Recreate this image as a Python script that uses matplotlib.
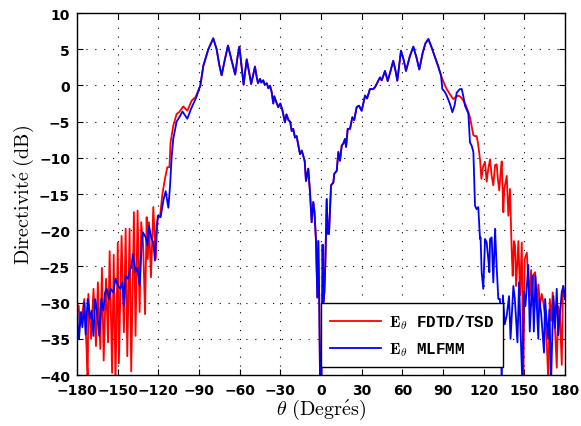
import numpy as np
import matplotlib
matplotlib.use("Agg")
import matplotlib.pyplot as plt

plt.rcParams["mathtext.fontset"] = "cm"

# ---- data (theta in degrees, directivity in dB) ----
# left side lobes, FDTD/TSD
theta_fdtd_left = [-180, -178.8, -177.8, -176.1, -174.6, -173.0, -172.1, -171.6, -169.6, -167.8,
                   -166.0, -164.6, -162.8, -161.6, -160.3, -158.6, -157.1, -155.9, -154.1, -152.9,
                   -151.6, -149.9, -149.1, -147.1, -145.4, -144.1, -142.9, -141.2, -140.0, -138.0,
                   -136.8, -135.3, -133.8, -132.6, -131.2, -129.8, -128.6, -127.8, -126.9, -125.4,
                   -123.7, -121.9, -120.5, -118.8, -117.0, -115.1, -113.4, -111.8, -111.0, -109.0,
                   -106.5, -104.7, -101.6, -98.6, -95.4, -92.5, -90.0]
d_fdtd_left = [-31.0, -30.4, -33.2, -31.5, -29.5, -36.0, -41.0, -28.8, -35.0, -28.1,
               -36.0, -27.2, -36.4, -25.2, -38.0, -26.7, -35.5, -22.9, -39.7, -23.4,
               -41.0, -21.7, -38.4, -20.8, -34.1, -19.8, -37.4, -19.8, -39.5, -17.5,
               -34.6, -17.3, -31.3, -18.9, -22.0, -31.6, -18.2, -24.0, -18.9, -26.5,
               -16.8, -24.0, -18.0, -18.2, -15.0, -12.9, -11.3, -11.3, -7.9, -5.6,
               -3.95, -3.7, -2.9, -3.5, -2.1, -1.6, -0.5]

# left side lobes, MLFMM
theta_mlfmm_left = [-180, -179.5, -178.5, -177.1, -176.0, -174.6, -173.6, -172.1, -170.4, -169.2,
                    -167.9, -166.6, -165.1, -163.6, -162.1, -160.5, -159.3, -158.0, -156.5, -155.0,
                    -153.2, -151.6, -149.8, -148.1, -146.6, -145.4, -144.2, -142.5, -141.2, -140.0,
                    -138.8, -136.8, -135.5, -133.8, -132.3, -131.3, -129.3, -128.1, -126.9, -125.0,
                    -123.7, -122.5, -121.3, -120.0, -118.3, -116.3, -114.6, -112.6, -111.4, -110.2,
                    -109.0, -106.5, -104.5, -102.2, -100.0, -98.6, -96.0, -92.0, -90.0]
d_mlfmm_left = [-29.1, -32.7, -35.0, -31.3, -33.4, -30.0, -34.4, -29.5, -32.2, -31.1,
                -34.6, -29.5, -31.4, -34.6, -29.5, -31.1, -28.6, -28.1, -29.5, -28.1,
                -28.6, -26.7, -27.6, -28.1, -27.2, -30.4, -26.3, -26.7, -25.6, -25.2,
                -23.3, -25.8, -25.2, -27.6, -22.1, -20.3, -21.0, -22.1, -19.4, -21.2,
                -21.7, -24.2, -19.4, -18.0, -18.2, -15.9, -14.6, -16.9, -14.0, -10.0,
                -7.4, -5.0, -4.4, -3.6, -4.2, -4.6, -3.3, -1.65, -0.5]

# main lobes, both methods overlap here
theta_main = [-89.0, -86.8, -83.1, -79.5, -77.0, -75.0, -73.3, -71.0, -68.6, -66.0,
              -63.3, -61.5, -60.2, -58.5, -57.1, -54.8, -53.0, -51.5, -48.7, -47.5,
              -46.5, -45.0, -44.0, -42.6, -41.5, -40.0, -38.8, -37.6, -36.5, -35.2,
              -34.5, -33.0, -31.5, -30.0, -28.5, -26.6, -25.5, -24.0, -22.8, -21.6,
              -20.5, -19.2, -18.0, -16.7, -15.5, -14.2, -13.1, -12.0, -11.1, -9.4,
              -8.1, -6.9, -5.7, -4.8, -3.7, -2.7, -2.0, -1.3, -0.7, 0.3,
              0.9, 1.2, 1.7, 2.5, 3.2, 4.2, 5.0, 5.9, 7.4, 9.1,
              9.8, 11.6, 12.8, 14.0, 15.3, 16.5, 17.7, 18.5, 19.7, 21.4,
              23.1, 24.5, 26.3, 28.0, 30.0, 32.5, 34.0, 36.1, 38.6, 40.0,
              41.1, 43.5, 44.8, 47.2, 49.2, 51.0, 53.3, 55.0, 56.3, 59.0,
              61.0, 62.7, 65.5, 68.1, 70.5, 72.5, 75.0, 77.0, 79.2, 81.5,
              84.1, 86.5, 88.5]
d_main = [0.0, 2.7, 5.0, 6.5, 5.0, 2.8, 1.4, 3.5, 5.5, 3.5,
          1.5, 4.0, 5.35, 2.5, 0.1, 3.6, 1.8, 0.2, 2.6, 1.2,
          0.3, 0.9, 0.4, 0.7, 0.1, 0.3, -0.4, -0.05, -0.8, -2.5,
          -1.5, -2.3, -3.0, -2.5, -3.4, -5.1, -4.0, -4.8, -5.0, -6.3,
          -6.0, -7.2, -7.0, -8.3, -9.5, -9.0, -9.7, -10.5, -13.2, -11.5,
          -14.8, -18.9, -16.1, -17.5, -21.5, -29.3, -21.5, -29.5, -41.0, -41.0,
          -30.0, -22.0, -30.0, -28.5, -24.5, -15.7, -20.5, -20.5, -13.8, -13.4,
          -12.2, -11.8, -9.2, -10.4, -8.3, -8.0, -7.4, -8.5, -6.0, -6.0,
          -4.4, -4.8, -3.0, -2.8, -3.5, -1.4, -1.8, -0.5, -0.5, -0.2,
          0.2, 1.1, 0.7, 2.0, 0.6, 1.8, 3.4, 2.0, 0.65, 4.8,
          3.5, 2.0, 4.0, 5.35, 3.8, 2.2, 4.5, 5.8, 6.4, 5.3,
          3.9, 2.6, 1.4]

# right side lobes, FDTD/TSD
theta_fdtd_right = [90.5, 92.7, 95.0, 97.6, 99.5, 101.3, 103.0, 105.0, 107.0, 108.7,
                    110.0, 111.1, 112.4, 113.5, 114.8, 115.8, 116.6, 117.3, 118.3, 119.7,
                    121.0, 122.2, 123.4, 124.7, 125.9, 127.1, 128.4, 129.6, 130.5, 131.5,
                    132.5, 133.3, 134.5, 135.2, 137.0, 138.2, 139.4, 140.7, 141.4, 142.3,
                    143.1, 143.9, 145.6, 146.8, 148.1, 149.3, 150.2, 151.8, 152.8, 153.8,
                    155.0, 155.4, 156.6, 157.9, 159.1, 160.3, 161.6, 162.8, 164.0, 165.2,
                    166.5, 167.7, 168.8, 170.0, 170.9, 172.0, 173.9, 175.0, 176.3, 177.6,
                    178.5, 180.0]
d_fdtd_right = [0.4, -0.5, -1.2, -1.9, -1.6, -1.4, -1.6, -2.1, -2.8, -3.7,
                -4.5, -5.6, -6.9, -7.0, -7.0, -8.0, -9.2, -10.2, -12.9, -11.1,
                -10.6, -13.3, -11.5, -10.2, -12.5, -13.8, -11.0, -10.9, -13.0, -14.5,
                -12.0, -10.5, -17.5, -14.3, -12.5, -18.0, -14.3, -23.1, -26.3, -21.5,
                -22.1, -27.7, -21.5, -29.0, -21.7, -41.0, -24.0, -23.1, -26.5, -29.1,
                -25.5, -30.4, -26.2, -25.8, -30.9, -27.5, -30.4, -28.8, -30.0, -31.8,
                -35.5, -41.0, -29.5, -32.5, -28.6, -31.0, -39.0, -30.5, -32.0, -38.6,
                -27.7, -29.5]

# right side lobes, MLFMM
theta_mlfmm_right = [89.5, 91.0, 92.7, 95.2, 96.9, 98.5, 100.1, 102.5, 103.8, 105.0,
                     106.2, 108.7, 109.9, 111.1, 112.4, 113.1, 113.6, 114.8, 116.0, 117.3,
                     117.7, 118.5, 119.7, 121.0, 122.2, 123.4, 124.2, 124.7, 125.9, 127.1,
                     128.4, 129.5, 130.8, 132.0, 133.3, 134.2, 135.5, 137.0, 138.7, 139.8,
                     141.9, 143.0, 144.9, 146.1, 147.3, 148.5, 149.7, 150.8, 152.9, 154.0,
                     155.9, 157.0, 158.2, 160.3, 161.0, 162.4, 164.5, 165.3, 167.4, 168.5,
                     169.7, 171.4, 172.6, 173.9, 175.0, 176.3, 177.6, 178.8, 180.0]
d_mlfmm_right = [-0.5, -0.8, -1.4, -2.6, -3.7, -2.8, -1.0, -0.5, -0.5, -1.5,
                 -2.8, -3.9, -7.9, -8.3, -9.2, -13.8, -16.6, -17.1, -16.8, -21.2,
                 -21.0, -25.8, -28.1, -21.2, -21.7, -24.0, -25.8, -21.2, -21.0, -27.2,
                 -19.8, -24.8, -29.5, -29.5, -41.0, -29.0, -33.0, -31.8, -29.1, -35.0,
                 -27.7, -29.5, -35.5, -27.2, -34.5, -41.0, -28.5, -30.5, -24.8, -34.0,
                 -26.3, -34.0, -26.3, -35.0, -29.5, -31.5, -36.9, -29.5, -35.0, -31.0,
                 -41.0, -29.1, -33.5, -28.1, -34.5, -31.5, -28.5, -27.7, -29.5]

theta_fdtd = theta_fdtd_left + theta_main + theta_fdtd_right
d_fdtd = d_fdtd_left + d_main + d_fdtd_right
theta_mlfmm = theta_mlfmm_left + theta_main + theta_mlfmm_right
d_mlfmm = d_mlfmm_left + d_main + d_mlfmm_right

xticks = np.arange(-180, 181, 30)
yticks = np.arange(-40, 11, 5)

fig = plt.figure(figsize=(5.81, 4.27), dpi=100)
ax = fig.add_axes([0.1325, 0.1194, 0.84, 0.8478])

ax.plot(theta_fdtd, d_fdtd, color="#ff0000", lw=1.3,
        label=r"$\mathbf{E}_\theta$ FDTD/TSD")
ax.plot(theta_mlfmm, d_mlfmm, color="#0000ff", lw=1.3,
        label=r"$\mathbf{E}_\theta$ MLFMM")

ax.set_xlim(-180, 180)
ax.set_ylim(-40, 10)
ax.set_xticks(xticks)
ax.set_yticks(yticks)
ax.grid(True, color="black", linestyle=(0, (1, 7)), linewidth=0.8)
ax.tick_params(direction="in", top=True, right=True, length=4, labelsize=10)
ax.tick_params(axis="x", pad=6)
ax.tick_params(axis="y", pad=5)
for lab in ax.get_xticklabels() + ax.get_yticklabels():
    lab.set_fontweight("bold")
for s in ax.spines.values():
    s.set_linewidth(1.0)

ax.set_xlabel(r"$\theta\ \mathrm{(Degr\acute{e}s)}$", fontsize=14.5, labelpad=0)
ax.set_ylabel(r"$\mathrm{Directivit\acute{e}\ (dB)}$", fontsize=14.5, labelpad=2)

leg = ax.legend(loc="lower right", bbox_to_anchor=(0.873, 0.022), borderaxespad=0,
                fancybox=False, edgecolor="black", framealpha=1,
                prop={"family": "Liberation Mono", "weight": "bold", "size": 11.5},
                handlelength=3.2, handletextpad=0.5, labelspacing=0.6, borderpad=0.55)
leg.get_frame().set_linewidth(1.0)

plt.savefig("out.png", dpi=100)
